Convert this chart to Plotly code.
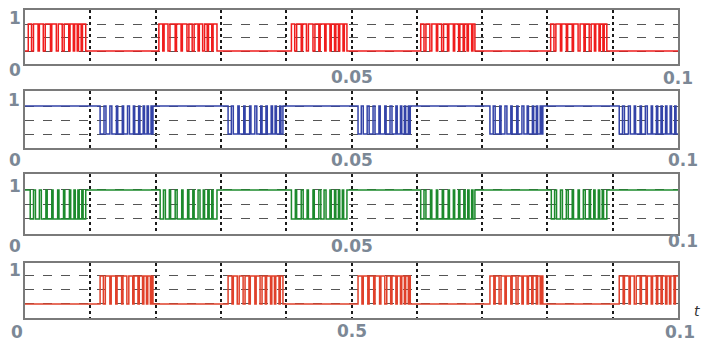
import plotly.graph_objects as go

# ---- data: switching instants (ms) for each gate signal ----
red_baseline = 0
red_edges_ms = [
    0.5, 1.0, 1.3, 2.0, 2.2, 2.8, 3.1, 3.9, 4.1, 4.8, 5.1, 5.7, 6.0, 6.7, 6.9, 7.4, 7.6, 8.0, 8.2, 8.6, 8.8, 9.3,
    20.5, 21.1, 21.3, 21.9, 22.2, 23.0, 23.2, 23.9, 24.1, 24.8, 25.1, 25.6, 25.9, 26.5, 26.7, 27.2, 27.5, 27.9, 28.1, 28.6, 28.8, 29.4,
    40.8, 41.3, 41.6, 42.3, 42.5, 43.1, 43.4, 44.1, 44.4, 45.0, 45.2, 45.9, 46.1, 46.7, 46.9, 47.4, 47.6, 48.0, 48.2, 48.7, 48.9, 49.3,
    60.6, 61.1, 61.4, 62.0, 62.3, 63.0, 63.2, 63.8, 64.1, 64.7, 64.9, 65.6, 65.8, 66.4, 66.6, 67.1, 67.3, 67.7, 67.9, 68.4, 68.6, 68.9,
    80.5, 81.0, 81.3, 82.0, 82.2, 82.9, 83.1, 83.8, 84.0, 84.7, 85.0, 85.6, 85.8, 86.4, 86.7, 87.2, 87.4, 87.9, 88.1, 88.5, 88.7, 89.1,
]

blue_baseline = 1
blue_edges_ms = [
    11.5, 12.1, 12.4, 13.0, 13.3, 14.0, 14.2, 14.9, 15.1, 15.7, 16.0, 16.6, 16.8, 17.4, 17.6, 18.1, 18.3, 18.7, 18.9, 19.3, 19.4, 19.6,
    31.1, 31.6, 31.9, 32.6, 32.8, 33.5, 33.7, 34.4, 34.6, 35.2, 35.5, 36.1, 36.3, 36.9, 37.1, 37.7, 37.9, 38.3, 38.5, 39.0, 39.2, 39.5,
    51.0, 51.5, 51.8, 52.4, 52.7, 53.3, 53.6, 54.2, 54.4, 55.1, 55.3, 55.9, 56.2, 56.8, 57.0, 57.5, 57.7, 58.1, 58.3, 58.7, 58.8, 59.0,
    71.2, 71.7, 72.0, 72.7, 72.9, 73.5, 73.8, 74.4, 74.6, 75.3, 75.5, 76.1, 76.4, 76.9, 77.1, 77.7, 77.9, 78.3, 78.5, 78.9, 79.1, 79.3,
    91.0, 91.5, 91.8, 92.4, 92.7, 93.3, 93.5, 94.2, 94.4, 95.0, 95.3, 95.9, 96.1, 96.7, 96.9, 97.4, 97.6, 98.1, 98.3, 98.8, 99.0, 99.5, 99.7,
]

green_baseline = 1
green_edges_ms = [
    0.8, 1.3, 1.6, 2.2, 2.5, 3.2, 3.4, 4.1, 4.3, 5.0, 5.2, 5.9, 6.1, 6.8, 7.0, 7.5, 7.7, 8.1, 8.3, 8.7, 8.9, 9.3,
    20.7, 21.2, 21.5, 22.1, 22.3, 23.0, 23.3, 24.0, 24.2, 24.9, 25.1, 25.7, 25.9, 26.5, 26.8, 27.3, 27.5, 28.0, 28.2, 28.6, 28.8, 29.4,
    40.8, 41.4, 41.6, 42.3, 42.6, 43.2, 43.4, 44.1, 44.3, 45.0, 45.3, 45.8, 46.1, 46.7, 46.9, 47.4, 47.6, 48.0, 48.2, 48.6, 48.8, 49.3,
    60.6, 61.1, 61.4, 62.1, 62.3, 63.0, 63.2, 63.9, 64.1, 64.8, 65.0, 65.6, 65.8, 66.4, 66.6, 67.2, 67.4, 67.8, 68.0, 68.4, 68.6, 68.9,
    80.6, 81.1, 81.4, 82.0, 82.3, 82.9, 83.2, 83.8, 84.0, 84.7, 84.9, 85.5, 85.8, 86.4, 86.6, 87.1, 87.3, 87.8, 88.0, 88.4, 88.6, 89.1,
]

orange_baseline = 0
orange_edges_ms = [
    11.5, 12.0, 12.3, 13.0, 13.2, 13.9, 14.1, 14.8, 15.0, 15.6, 15.9, 16.5, 16.7, 17.3, 17.5, 18.0, 18.2, 18.6, 18.8, 19.2, 19.4, 19.6,
    31.1, 31.7, 31.9, 32.5, 32.8, 33.4, 33.7, 34.3, 34.5, 35.2, 35.4, 36.0, 36.3, 36.8, 37.0, 37.6, 37.8, 38.2, 38.4, 38.9, 39.1, 39.5,
    51.0, 51.6, 51.8, 52.5, 52.7, 53.4, 53.6, 54.3, 54.5, 55.1, 55.4, 56.0, 56.2, 56.8, 57.0, 57.5, 57.7, 58.1, 58.3, 58.7, 58.8, 59.0,
    71.2, 71.8, 72.0, 72.6, 72.9, 73.5, 73.7, 74.4, 74.6, 75.2, 75.5, 76.1, 76.3, 76.9, 77.1, 77.6, 77.8, 78.3, 78.5, 78.9, 79.1, 79.3,
    91.0, 91.6, 91.8, 92.5, 92.7, 93.3, 93.6, 94.2, 94.4, 95.1, 95.3, 95.9, 96.1, 96.7, 96.9, 97.4, 97.6, 98.1, 98.3, 98.7, 98.9, 99.4, 99.6,
]

t_end = 0.1
x_tick_labels = [["0", "0.05", "0.1"], ["0", "0.05", "0.1"], ["0", "0.05", "0.1"], ["0", "0.5", "0.1"]]
y_tick_labels = ["1", "0"]

series = [
    (red_edges_ms, red_baseline, "#f01c1c"),
    (blue_edges_ms, blue_baseline, "#3343a8"),
    (green_edges_ms, green_baseline, "#1c8a2c"),
    (orange_edges_ms, orange_baseline, "#e0402a"),
]

W, H = 702, 342
# panel frames in pixels (top, bottom) and y ranges
panels_px = [(10, 64), (91, 148), (174, 234), (263, 318)]
yranges = [[-0.48, 1.52], [-0.5, 1.54], [-0.52, 1.55], [-0.5, 1.46]]
x0_px, x1_px = 25, 678

fig = go.Figure()

for i, (edges, base, col) in enumerate(series):
    xs = [0.0]
    ys = [base]
    v = base
    for e in edges:
        v = 1 - v
        xs.append(e / 1000.0)
        ys.append(v)
    xs.append(t_end)
    ys.append(v)
    n = "" if i == 0 else str(i + 1)
    fig.add_trace(go.Scatter(x=xs, y=ys, mode="lines", line=dict(shape="hv", color=col, width=1.5),
                             xaxis="x" + n, yaxis="y" + n, showlegend=False, hoverinfo="skip"))

for i, ((top, bot), yr) in enumerate(zip(panels_px, yranges)):
    n = "" if i == 0 else str(i + 1)
    fig.layout["xaxis" + n] = dict(
        domain=[x0_px / W, x1_px / W], range=[0, t_end], anchor="y" + n,
        tickmode="linear", tick0=0, dtick=0.01, showticklabels=False, ticks="",
        showgrid=True, gridcolor="#1a1a1a", griddash="dot", gridwidth=1.6,
        showline=True, mirror=True, linecolor="#7a7a7a", linewidth=2, zeroline=False,
    )
    fig.layout["yaxis" + n] = dict(
        domain=[1 - bot / H, 1 - top / H], range=yr, anchor="x" + n,
        tickvals=[0, 0.5, 1], showticklabels=False, ticks="",
        showgrid=True, gridcolor="#555555", griddash="dash", gridwidth=1,
        showline=True, mirror=True, linecolor="#7a7a7a", linewidth=2, zeroline=False,
    )

lab_font = dict(family="DejaVu Sans", size=17, color="#7c8896")
label_pos = [
    ((15, 18), (15, 70), [(15, 70), (352, 77), (678, 78)]),
    ((14, 100), (15, 160), [(15, 160), (352, 160), (683, 160)]),
    ((15, 186), (15, 246), [(15, 246), (352, 246), (683, 241)]),
    ((15, 270), (17, 332), [(17, 332), (352, 331), (680, 332)]),
]
annotations = []
for i, (p1, p0, xl) in enumerate(label_pos):
    annotations.append(dict(x=p1[0] / W, y=1 - p1[1] / H, text="<b>%s</b>" % y_tick_labels[0]))
    for j, (px, py) in enumerate(xl):
        if j == 0:
            continue
        annotations.append(dict(x=px / W, y=1 - py / H, text="<b>%s</b>" % x_tick_labels[i][j]))
    annotations.append(dict(x=p0[0] / W, y=1 - p0[1] / H, text="<b>%s</b>" % x_tick_labels[i][0]))
for a in annotations:
    a.update(xref="paper", yref="paper", showarrow=False, xanchor="center", yanchor="middle", font=lab_font)
annotations.append(dict(x=697 / W, y=1 - 311 / H, xref="paper", yref="paper", showarrow=False,
                        text="<i>t</i>", xanchor="center", yanchor="middle",
                        font=dict(family="DejaVu Sans", size=14, color="#333333")))

fig.update_layout(
    width=W, height=H, margin=dict(l=0, r=0, t=0, b=0),
    paper_bgcolor="white", plot_bgcolor="white",
    annotations=annotations,
)

fig.write_html("out.html", config={"displayModeBar": False})
